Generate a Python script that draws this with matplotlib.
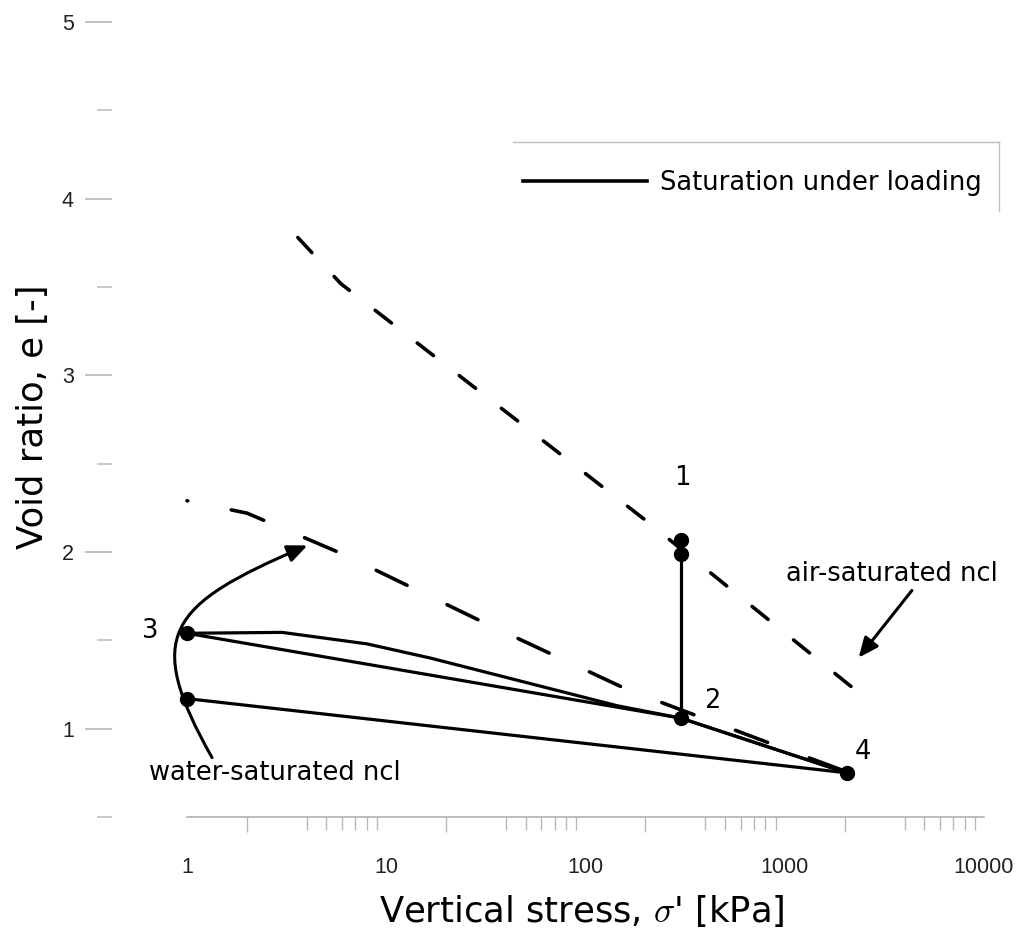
import matplotlib
matplotlib.use("Agg")
import matplotlib.pyplot as plt
from matplotlib.patches import FancyArrowPatch
from matplotlib.path import Path
from matplotlib.lines import Line2D
from matplotlib.ticker import FixedLocator, NullFormatter, FixedFormatter

plt.rcParams['mathtext.fontset'] = 'cm'

# ---------------- data ----------------
air_sigma = [3.6, 5.9, 200, 2200]
air_e = [3.78, 3.52, 2.18, 1.23]

water_sigma = [1, 2, 6, 31, 163, 925, 2000]
water_e = [2.29, 2.22, 1.99, 1.60, 1.22, 0.90, 0.76]

path_12_sigma = [300, 300]
path_12_e = [1.99, 1.06]

path_324_sigma = [1, 300, 2050]
path_324_e = [1.54, 1.06, 0.75]

path_3c4_sigma = [1, 3, 8, 16.6, 144, 300, 2050]
path_3c4_e = [1.54, 1.545, 1.48, 1.40, 1.13, 1.06, 0.75]

path_low_sigma = [1, 2050]
path_low_e = [1.17, 0.75]

point_sigma = [300, 300, 300, 1, 1, 2050]
point_e = [2.07, 1.99, 1.06, 1.54, 1.17, 0.75]

point_labels = ["1", "2", "3", "4"]
point_label_sigma = [305, 431, 0.652, 2470]
point_label_e = [2.42, 1.159, 1.555, 0.870]

x_ticks = [1, 10, 100, 1000, 10000]
x_ticklabels = ["1", "10", "100", "1000", "10000"]
x_minor_mult = [2, 4, 5, 6, 7, 8, 9]
y_ticks = [1, 2, 3, 4, 5]
y_ticklabels = ["1", "2", "3", "4", "5"]
y_minor = [0.5, 1.5, 2.5, 3.5, 4.5]

# ---------------- figure ----------------
W, H = 1020, 936
fig = plt.figure(figsize=(W / 100, H / 100), dpi=100)
ax = fig.add_axes([187 / W, 1 - 817 / H, (984 - 187) / W, (817 - 22) / H])
ax.set_xscale('log')
ax.set_xlim(1, 10000)
ax.set_ylim(0.5, 5)

lw_s = 2.3
lw_d = 2.6

ax.plot(air_sigma, air_e, color='black', lw=lw_d,
        linestyle=(0, (5.7, 9.05)), dash_capstyle='round', clip_on=False)
ax.plot(water_sigma, water_e, color='black', lw=lw_d,
        linestyle=(9.3, (9.5, 12.3)), dash_capstyle='round', clip_on=False)

ax.plot(path_12_sigma, path_12_e, color='black', lw=lw_s,
        label='Saturation under loading')
ax.plot(path_324_sigma, path_324_e, color='black', lw=lw_s, clip_on=False)
ax.plot(path_3c4_sigma, path_3c4_e, color='black', lw=lw_s, clip_on=False)
ax.plot(path_low_sigma, path_low_e, color='black', lw=lw_s, clip_on=False)
ax.plot(point_sigma, point_e, 'o', color='black', ms=10, ls='none',
        clip_on=False, zorder=5)

for lab, xs, ys in zip(point_labels, point_label_sigma, point_label_e):
    ax.text(xs, ys, lab, fontsize=18.5, ha='center', va='center',
            family='DejaVu Sans')

ax.text(3453, 1.878, 'air-saturated ncl', fontsize=18.5, ha='center',
        va='center', family='DejaVu Sans')
ax.text(2.765, 0.751, 'water-saturated ncl', fontsize=18.5, ha='center',
        va='center', family='DejaVu Sans')

# arrows
arr_air = FancyArrowPatch((4345, 1.782), (2350, 1.402),
                          arrowstyle='-|>,head_length=0.8,head_width=0.35',
                          mutation_scale=15, lw=2.2, color='black',
                          shrinkA=0, shrinkB=0)
ax.add_patch(arr_air)

verts = [(1.336, 0.836), (0.60, 1.53), (0.80, 1.70), (4.018, 2.037)]
codes = [Path.MOVETO, Path.CURVE4, Path.CURVE4, Path.CURVE4]
arr_w = FancyArrowPatch(path=Path(verts, codes),
                        arrowstyle='-|>,head_length=0.8,head_width=0.35',
                        mutation_scale=15, lw=2.2, color='black',
                        transform=ax.transData, clip_on=False)
ax.add_patch(arr_w)

# ---------------- axes styling ----------------
for s in ['top', 'right']:
    ax.spines[s].set_visible(False)
ax.spines['left'].set_position(('outward', 54))
ax.spines['left'].set_visible(False)
ax.spines['bottom'].set_color('#a8a8a8')
ax.spines['bottom'].set_linewidth(1.1)

ax.xaxis.set_major_locator(FixedLocator(x_ticks))
ax.xaxis.set_major_formatter(FixedFormatter(x_ticklabels))
minor = [m * 10 ** k for k in range(4) for m in x_minor_mult]
ax.xaxis.set_minor_locator(FixedLocator(minor))
ax.xaxis.set_minor_formatter(NullFormatter())
ax.tick_params(axis='x', which='major', length=0, pad=29, labelsize=15.5,
               labelcolor='#222222')
ax.tick_params(axis='x', which='minor', length=9.5, width=1.0,
               color='#b8b8b8', direction='out')
for loc, tk in zip(minor, ax.xaxis.get_minor_ticks(len(minor))):
    m = round(loc / 10 ** int(len(str(int(loc))) - 1))
    if m == 2:
        tk.tick1line.set_color('#999999')
        tk.tick1line.set_markersize(11)
    elif m == 4:
        tk.tick1line.set_color('#dedede')

ax.yaxis.set_major_locator(FixedLocator(y_ticks))
ax.yaxis.set_major_formatter(FixedFormatter(y_ticklabels))
ax.yaxis.set_minor_locator(FixedLocator(y_minor))
ax.tick_params(axis='y', which='major', length=19.4, width=1.1,
               color='#b0b0b0', pad=8, labelsize=15.5, labelcolor='#222222')
ax.tick_params(axis='y', which='minor', length=10.8, width=1.1,
               color='#b8b8b8')
for t in ax.get_xticklabels() + ax.get_yticklabels():
    t.set_family('Liberation Sans')

ax.set_xlabel(r"Vertical stress, $\sigma$' [kPa]", fontsize=25.5,
              family='DejaVu Sans', va='center')
ax.xaxis.set_label_coords(0.4956, -0.1182)
ax.set_ylabel('Void ratio, e [-]', fontsize=25.5, family='DejaVu Sans',
              va='center')
ax.yaxis.set_label_coords((33 - 187) / 797, 0.5031)

leg = ax.legend(loc='center left', bbox_to_anchor=(523 / W, 1 - 183 / H),
                bbox_transform=fig.transFigure, frameon=False, borderpad=0,
                borderaxespad=0, handlelength=4.83, handletextpad=0.5,
                prop={'family': 'DejaVu Sans', 'size': 18.5})
leg.get_lines()[0].set_linewidth(2.6)

fig.add_artist(Line2D([513 / W, 999 / W], [1 - 142 / H, 1 - 142 / H],
                      transform=fig.transFigure, color='#c0c0c0', lw=1))
fig.add_artist(Line2D([999 / W, 999 / W], [1 - 142 / H, 1 - 211 / H],
                      transform=fig.transFigure, color='#c0c0c0', lw=1))

fig.savefig('out.png', dpi=100)
